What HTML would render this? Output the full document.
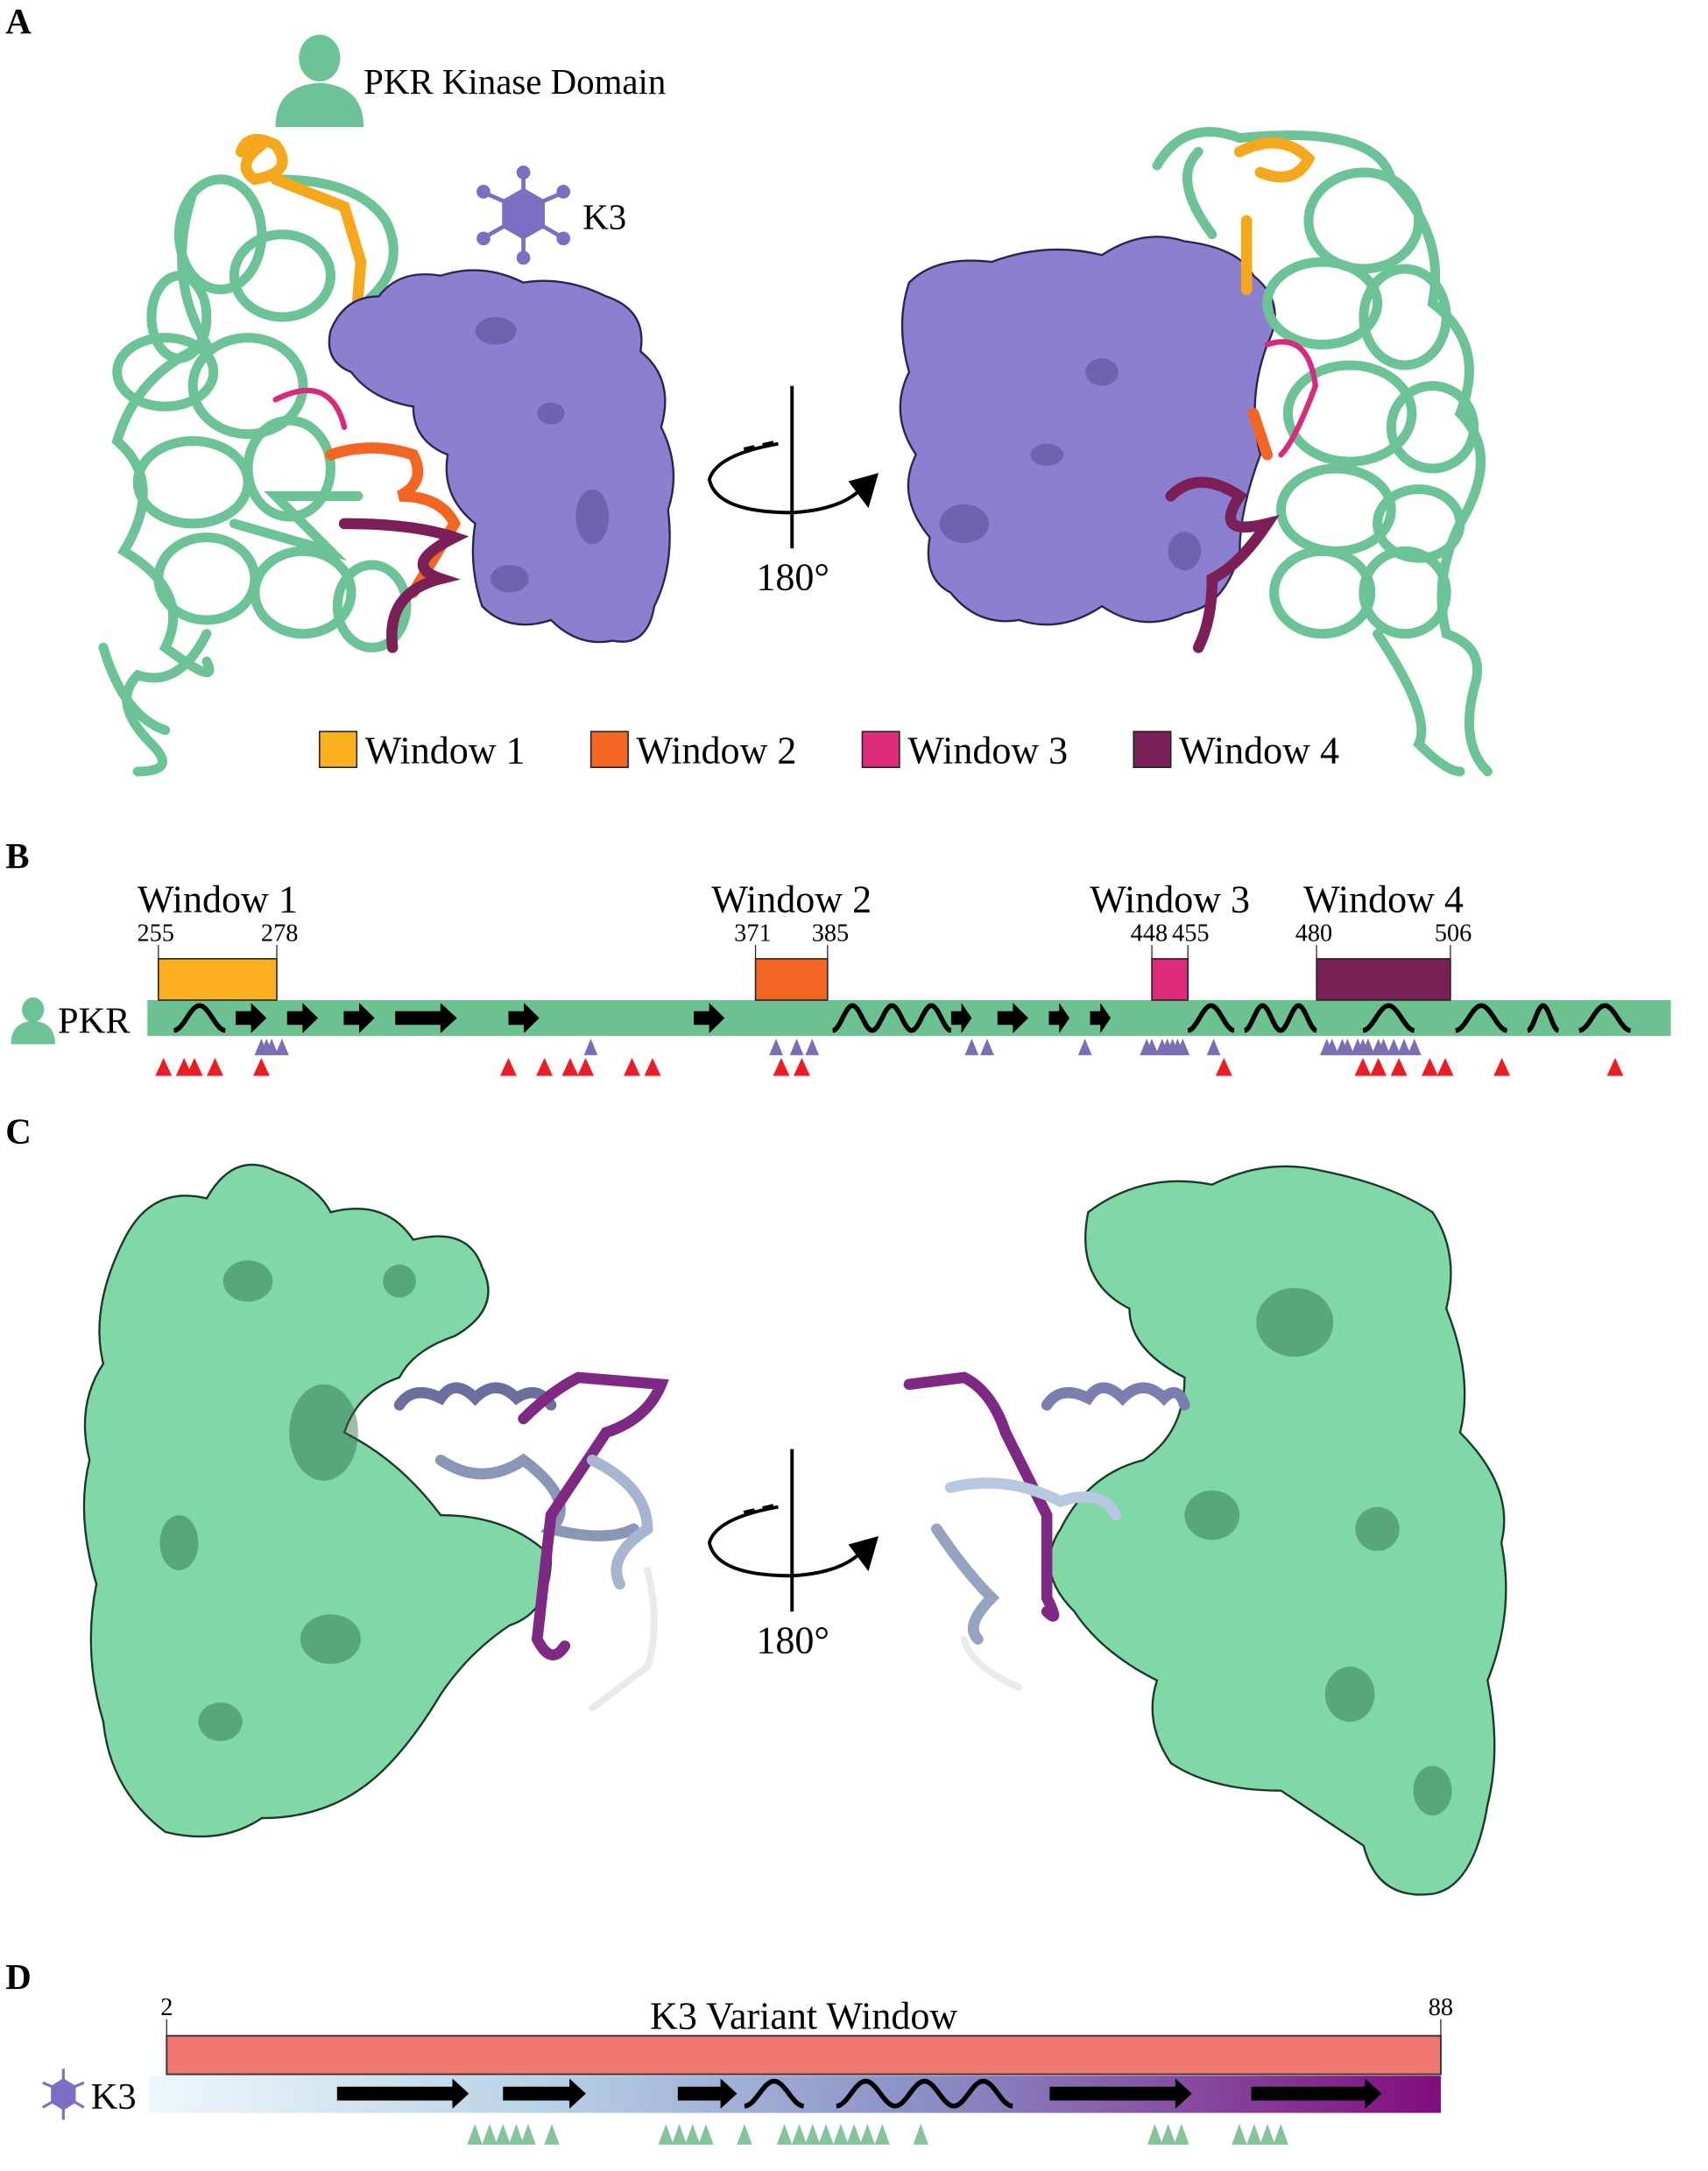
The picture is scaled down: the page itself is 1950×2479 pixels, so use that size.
<!DOCTYPE html>
<html><head><meta charset="utf-8">
<style>
html,body{margin:0;padding:0;background:#fff;}
svg{display:block;font-family:"Liberation Serif",serif;}
</style></head>
<body>
<svg id="fig" width="1950" height="2479" viewBox="0 0 1240 1576" xmlns="http://www.w3.org/2000/svg">
<!-- Panel labels -->
<text x="4" y="24" font-size="26" font-weight="bold">A</text>
<text x="4" y="630" font-size="26" font-weight="bold">B</text>
<text x="4" y="830" font-size="26" font-weight="bold">C</text>
<text x="4" y="1444" font-size="26" font-weight="bold">D</text>

<!-- Panel A icons -->
<g fill="#6cc496">
  <ellipse cx="232" cy="42" rx="15" ry="17"/>
  <path d="M200 92 Q200 62 232 60 Q264 62 264 92 Z"/>
</g>
<text x="264" y="68" font-size="26">PKR Kinase Domain</text>
<g fill="#7b6fc4" stroke="#7b6fc4" stroke-width="3">
  <polygon points="380,138 394,146 394,164 380,172 366,164 366,146"/>
  <line x1="380" y1="138" x2="380" y2="126"/><line x1="380" y1="172" x2="380" y2="186"/>
  <line x1="366" y1="146" x2="352" y2="140"/><line x1="394" y1="146" x2="408" y2="140"/>
  <line x1="366" y1="164" x2="352" y2="172"/><line x1="394" y1="164" x2="408" y2="172"/>
  <circle cx="380" cy="125" r="3.5"/><circle cx="380" cy="187" r="3.5"/>
  <circle cx="351" cy="139" r="3.5"/><circle cx="409" cy="139" r="3.5"/>
  <circle cx="351" cy="173" r="3.5"/><circle cx="409" cy="173" r="3.5"/>
</g>
<text x="423" y="166" font-size="26">K3</text>

<!-- Panel A left structure -->
<g fill="none" stroke="#6cc496" stroke-width="7" stroke-linecap="round">
  <path d="M140 140 Q120 200 150 250 Q100 270 85 320 Q120 350 90 400 Q140 430 120 470 Q160 500 150 480"/>
  <ellipse cx="160" cy="170" rx="30" ry="40"/><ellipse cx="205" cy="200" rx="35" ry="30"/>
  <ellipse cx="120" cy="270" rx="35" ry="25"/><ellipse cx="180" cy="280" rx="40" ry="35"/>
  <ellipse cx="140" cy="350" rx="40" ry="30"/><ellipse cx="210" cy="340" rx="30" ry="35"/>
  <ellipse cx="150" cy="420" rx="35" ry="30"/><ellipse cx="220" cy="430" rx="35" ry="30"/>
  <ellipse cx="270" cy="440" rx="25" ry="30"/><ellipse cx="130" cy="230" rx="20" ry="30"/>
  <path d="M150 460 Q130 500 100 490 Q80 510 110 540 Q130 560 100 560"/>
  <path d="M75 470 Q90 520 120 530"/><path d="M200 130 Q260 130 280 160 Q300 200 250 230"/>
  <path d="M170 380 L240 400 L200 360 L260 360"/>
</g>
<g fill="none" stroke-width="8" stroke-linecap="round">
  <path d="M175 110 Q180 95 200 105 Q215 125 185 130 Q170 120 190 105 M200 130 L250 150 L262 190 L258 238" stroke="#f5a81c"/>
  <path d="M240 330 Q270 320 300 330 Q310 350 290 360 Q320 360 330 380 L300 430" stroke="#f26522"/>
  <path d="M200 290 Q240 270 250 310" stroke="#d62a7a" stroke-width="4"/>
  <path d="M250 380 Q300 380 330 390 Q290 410 320 420 Q280 430 285 470" stroke="#7b1f57"/>
</g>
<path d="M240 240 Q250 215 275 215 Q290 195 320 200 Q350 190 380 205 Q410 200 440 215 Q470 225 465 255 Q490 275 480 310 Q495 340 485 370 Q490 410 475 440 Q470 470 445 465 Q420 470 400 450 Q370 460 350 440 Q340 410 345 380 Q320 360 325 330 Q300 320 300 295 Q270 290 255 270 Q235 262 240 240 Z" fill="#8b80d0" stroke="#2a2550" stroke-width="1.5"/>
<g fill="#5b5096" opacity="0.6">
  <ellipse cx="360" cy="240" rx="15" ry="10"/><ellipse cx="430" cy="375" rx="12" ry="20"/>
  <ellipse cx="400" cy="300" rx="10" ry="8"/><ellipse cx="370" cy="420" rx="14" ry="10"/>
</g>

<!-- Panel A right structure -->
<path d="M660 205 Q680 185 720 190 Q760 175 800 185 Q830 165 860 175 Q900 180 910 200 Q935 220 920 250 Q905 290 915 330 Q900 370 900 400 Q890 440 860 445 Q830 460 800 440 Q770 460 740 450 Q710 455 690 430 Q670 420 675 390 Q650 360 665 330 Q645 300 660 270 Q650 235 660 205 Z" fill="#8b80d0" stroke="#2a2550" stroke-width="1.5"/>
<g fill="#5b5096" opacity="0.6">
  <ellipse cx="800" cy="270" rx="12" ry="10"/><ellipse cx="700" cy="380" rx="18" ry="14"/>
  <ellipse cx="760" cy="330" rx="12" ry="8"/><ellipse cx="860" cy="400" rx="12" ry="14"/>
</g>
<g fill="none" stroke="#6cc496" stroke-width="7" stroke-linecap="round">
  <path d="M840 120 Q860 85 900 100 Q1000 90 1010 130 Q1050 170 1040 220 Q1080 250 1060 300 Q1090 330 1060 380 Q1040 420 1050 460 Q1080 470 1070 500 Q1060 540 1080 560"/>
  <ellipse cx="990" cy="160" rx="40" ry="35"/><ellipse cx="960" cy="220" rx="40" ry="30"/>
  <ellipse cx="1020" cy="230" rx="30" ry="35"/><ellipse cx="980" cy="300" rx="45" ry="35"/>
  <ellipse cx="1040" cy="310" rx="30" ry="30"/><ellipse cx="970" cy="370" rx="40" ry="30"/>
  <ellipse cx="1030" cy="380" rx="30" ry="25"/><ellipse cx="960" cy="430" rx="35" ry="30"/>
  <ellipse cx="1020" cy="430" rx="30" ry="30"/><path d="M1000 460 Q1040 520 1030 540 Q1050 560 1060 560"/>
  <path d="M880 170 Q850 130 870 110"/>
</g>
<g fill="none" stroke-width="8" stroke-linecap="round">
  <path d="M900 110 Q930 95 950 115 Q940 135 915 125 M905 160 L905 210" stroke="#f5a81c"/>
  <path d="M910 300 L920 330" stroke="#f26522"/>
  <path d="M920 250 Q950 240 955 280 Q940 320 930 330" stroke="#d62a7a" stroke-width="4"/>
  <path d="M850 360 Q870 340 900 360 Q880 390 920 380 Q900 410 880 420 Q880 450 870 470" stroke="#7b1f57"/>
</g>

<!-- Rotation symbol A -->
<g fill="none" stroke="#000" stroke-width="2.5">
  <line x1="575" y1="280" x2="575" y2="398"/>
  <path d="M565 322 Q520 330 515 348 Q520 372 575 372 Q610 370 625 355"/>
  <path d="M540 326 L566 320" stroke-dasharray="8 6"/>
  <polygon points="636,345 618,350 630,366" fill="#000"/>
</g>
<text x="549" y="428" font-size="28">180°</text>

<!-- Legend A -->
<g><rect x="232" y="531" width="27" height="26" fill="#fbb01f" stroke="#222" stroke-width="1"/><text x="265" y="554" font-size="28">Window 1</text></g>
<g><rect x="429" y="531" width="27" height="26" fill="#f26522" stroke="#222" stroke-width="1"/><text x="462" y="554" font-size="28">Window 2</text></g>
<g><rect x="626" y="531" width="27" height="26" fill="#dd2a7b" stroke="#222" stroke-width="1"/><text x="659" y="554" font-size="28">Window 3</text></g>
<g><rect x="823" y="531" width="27" height="26" fill="#7b1f57" stroke="#222" stroke-width="1"/><text x="856" y="554" font-size="28">Window 4</text></g>

<!-- Panel B -->
<g id="panelB"></g>
<!-- Panel D -->
<g id="panelD"></g>

<!-- Panel C left -->
<path d="M90 900 Q110 860 150 870 Q170 835 200 850 Q230 860 240 880 Q280 870 300 900 Q340 890 350 920 Q365 950 330 970 Q300 980 290 1000 Q260 1010 250 1040 Q290 1060 320 1100 Q370 1100 400 1130 Q400 1170 370 1180 Q340 1200 320 1230 Q290 1280 260 1300 Q230 1320 190 1320 Q160 1340 120 1330 Q80 1300 75 1250 Q60 1200 70 1150 Q55 1100 65 1060 Q55 1020 75 990 Q65 950 90 900 Z" fill="#7fd8a5" stroke="#1a3a28" stroke-width="1.5"/>
<g fill="#2f6b4a" opacity="0.45">
  <ellipse cx="235" cy="1040" rx="25" ry="35"/><ellipse cx="180" cy="930" rx="18" ry="15"/>
  <ellipse cx="240" cy="1190" rx="22" ry="18"/><ellipse cx="130" cy="1120" rx="14" ry="20"/>
  <ellipse cx="290" cy="930" rx="12" ry="12"/><ellipse cx="160" cy="1250" rx="16" ry="14"/>
</g>
<g fill="none" stroke-width="8" stroke-linecap="round">
  <path d="M290 1020 Q300 1005 320 1015 Q330 1000 345 1015 Q360 1000 375 1015 Q390 1005 400 1020" stroke="#6a6f9e"/>
  <path d="M320 1060 Q350 1080 380 1060 Q420 1090 400 1110 Q440 1120 460 1110" stroke="#8a96b5"/>
  <path d="M380 1030 Q400 1010 420 1000 L480 1005 Q470 1030 440 1040 L400 1100 L390 1190 Q400 1210 410 1195" stroke="#7e2a85"/>
  <path d="M430 1060 Q470 1080 470 1110 Q440 1130 450 1150" stroke="#a7b6d0"/>
  <path d="M470 1140 Q480 1180 470 1210 L430 1240" stroke="#e9eaee" stroke-width="5"/>
</g>

<!-- Panel C right -->
<path d="M790 880 Q830 850 880 860 Q920 840 960 850 Q1010 860 1040 880 Q1060 910 1050 950 Q1070 1000 1060 1040 Q1100 1080 1090 1120 Q1100 1170 1080 1220 Q1090 1270 1080 1310 Q1070 1370 1040 1375 Q1000 1380 990 1340 Q960 1320 930 1300 Q880 1300 850 1280 Q830 1250 840 1220 Q800 1200 780 1170 Q750 1140 770 1110 Q790 1070 830 1060 Q860 1040 860 1000 Q820 980 820 950 Q780 930 790 880 Z" fill="#7fd8a5" stroke="#1a3a28" stroke-width="1.5"/>
<g fill="#2f6b4a" opacity="0.45">
  <ellipse cx="940" cy="960" rx="28" ry="25"/><ellipse cx="880" cy="1100" rx="20" ry="18"/>
  <ellipse cx="1000" cy="1110" rx="16" ry="16"/><ellipse cx="980" cy="1230" rx="18" ry="20"/>
  <ellipse cx="1040" cy="1300" rx="14" ry="18"/>
</g>
<g fill="none" stroke-width="8" stroke-linecap="round">
  <path d="M760 1020 Q770 1005 790 1015 Q800 1000 815 1015 Q830 1000 845 1015 Q855 1005 860 1020" stroke="#7a7fae"/>
  <path d="M660 1005 L700 1000 Q720 1010 730 1040 L760 1100 L760 1160 Q770 1180 760 1170" stroke="#7e2a85"/>
  <path d="M690 1080 Q730 1070 770 1090 Q800 1080 810 1100" stroke="#b8c8e0"/>
  <path d="M680 1110 Q700 1140 720 1160 Q700 1180 710 1190" stroke="#94a3c0"/>
  <path d="M700 1190 Q705 1210 740 1225" stroke="#e9eaee" stroke-width="5"/>
</g>

<!-- Rotation symbol C -->
<g fill="none" stroke="#000" stroke-width="2.5">
  <line x1="575" y1="1052" x2="575" y2="1170"/>
  <path d="M565 1094 Q520 1102 515 1120 Q520 1144 575 1144 Q610 1142 625 1127"/>
  <path d="M540 1098 L566 1092" stroke-dasharray="8 6"/>
  <polygon points="636,1117 618,1122 630,1138" fill="#000"/>
</g>
<text x="549" y="1200" font-size="28">180°</text>

<defs>
  <linearGradient id="k3grad" x1="0" x2="1" y1="0" y2="0">
    <stop offset="0" stop-color="#eef7fb"/>
    <stop offset="0.3" stop-color="#b9d3e6"/>
    <stop offset="0.6" stop-color="#8a8fc6"/>
    <stop offset="1" stop-color="#820c7c"/>
  </linearGradient>
</defs>
</svg>
<script>
// ---------- Panel B data ----------
const pkrWindowNames = ["Window 1","Window 2","Window 3","Window 4"];
const pkrWindowStart = [255,371,448,480];
const pkrWindowEnd = [278,385,455,506];
const pkrWindowColors = ["#fbb01f","#f26522","#dd2a7b","#7b1f57"];
const pkrStrandStart = [270,280,291,301,323,359,409,418,428,436];
const pkrStrandEnd = [276,286,297,313,329,365,413,424,432,440];
const pkrHelixStart = [258,386,455,466,489,507,521,531];
const pkrHelixEnd = [268,409,464,480,499,517,527,541];
const pkrHelixTurns = [1,3,1,2,1,1,1,1];
const pkrK3Contacts = [275,276,277,279,339,375,379,382,413,416,435,447,448,450,451,452,453,454,460,482,483,485,486,488,489,490,492,493,495,497,499];
const pkrVariants = [256,260,262,266,275,323,330,335,338,347,351,376,380,462,489,492,496,502,505,516,538];
// ---------- Panel D data ----------
const k3WindowStart = 2;
const k3WindowEnd = 88;
const k3StrandStart = [13.5,24.7,36.5,61.6,75.2];
const k3StrandEnd = [22.4,30.3,40.5,71.2,84];
const k3HelixStart = [41,47.2];
const k3HelixEnd = [45,59.1];
const k3HelixTurns = [1,3];
const k3PkrContacts = [22.8,23.8,24.7,25.6,26.4,28,35.7,36.6,37.5,38.4,41,43.7,44.7,45.6,46.5,47.5,48.4,49.3,50.3,52.9,68.7,69.6,70.5,74.4,75.4,76.3,77.2];

const NS = "http://www.w3.org/2000/svg";
function mk(tag, attrs, parent){const e=document.createElementNS(NS,tag);for(const k in attrs)e.setAttribute(k,attrs[k]);parent.appendChild(e);return e;}
function helixPath(x0,x1,turns,yc,amp){
  let d="";const n=turns*40;
  for(let i=0;i<=n;i++){const t=i/n;const x=x0+(x1-x0)*t;const y=yc+amp*Math.cos(2*Math.PI*turns*t);d+=(i?"L":"M")+x.toFixed(1)+" "+y.toFixed(1);}
  return d;
}
function arrowPts(x0,x1,yc){const h=Math.min(12,(x1-x0)*0.5);return `${x0},${yc-5} ${x1-h},${yc-5} ${x1-h},${yc-11} ${x1},${yc} ${x1-h},${yc+11} ${x1-h},${yc+5} ${x0},${yc+5}`;}
function tri(x,yTop,w,h){return `${x},${yTop} ${x+w/2},${yTop+h} ${x-w/2},${yTop+h}`;}

// ---- Panel B ----
(function(){
  const g=document.getElementById('panelB');
  const xB = r => 115 + (r-255)*3.737;
  // person icon
  const icon=mk('g',{fill:'#6cc496'},g);
  
  
  mk('ellipse',{cx:24,cy:733,rx:8,ry:9},icon);
  mk('path',{d:'M8 758 Q8 742 24 741 Q40 742 40 758 Z'},icon);
  const lbl=mk('text',{x:42,y:750,'font-size':27},g);lbl.textContent='PKR';
  
  
  const bar=mk('rect',{x:107,y:726,width:1106,height:26,fill:'#6bc18f'},g);
  
  
  for(let i=0;i<pkrWindowStart.length;i++){
    const a=xB(pkrWindowStart[i]), b=xB(pkrWindowEnd[i]);
    const wg=mk('g',{},g);
    
    
    mk('rect',{x:a,y:696,width:b-a,height:30,fill:pkrWindowColors[i],stroke:'#222','stroke-width':1},wg);
    mk('line',{x1:a,y1:686,x2:a,y2:696,stroke:'#222','stroke-width':0.8},wg);
    mk('line',{x1:b,y1:686,x2:b,y2:696,stroke:'#222','stroke-width':0.8},wg);
    const t1=mk('text',{x:a-2,y:683,'font-size':18,'text-anchor':'middle'},wg);t1.textContent=pkrWindowStart[i];
    const t2=mk('text',{x:b+2,y:683,'font-size':18,'text-anchor':'middle'},wg);t2.textContent=pkrWindowEnd[i];
    const t3=mk('text',{x:(a+b)/2,y:662,'font-size':28,'text-anchor':'middle'},wg);t3.textContent=pkrWindowNames[i];
  }
  for(let i=0;i<pkrStrandStart.length;i++){
    const p=mk('polygon',{points:arrowPts(xB(pkrStrandStart[i]),xB(pkrStrandEnd[i]),739),fill:'#000'},g);
    
    
  }
  for(let i=0;i<pkrHelixStart.length;i++){
    const p=mk('path',{d:helixPath(xB(pkrHelixStart[i]),xB(pkrHelixEnd[i]),pkrHelixTurns[i],739,9),fill:'none',stroke:'#000','stroke-width':3.5},g);
    
    
  }
  pkrK3Contacts.forEach(r=>{
    const p=mk('polygon',{points:tri(xB(r),754,10,12),fill:'#7b6fb4'},g);
    
    
  });
  pkrVariants.forEach(r=>{
    const p=mk('polygon',{points:tri(xB(r),768,12,13),fill:'#ed1c24'},g);
    
    
  });
})();

// ---- Panel D ----
(function(){
  const g=document.getElementById('panelD');
  const xD = r => 121 + (r-2)*10.756;
  const icon=mk('g',{fill:'#7b6fc4',stroke:'#7b6fc4','stroke-width':2},g);
  
  
  mk('polygon',{points:'46,1510 54,1515 54,1526 46,1531 38,1526 38,1515'},icon);
  mk('line',{x1:46,y1:1510,x2:46,y2:1502},icon);mk('line',{x1:46,y1:1531,x2:46,y2:1539},icon);
  mk('line',{x1:38,y1:1515,x2:31,y2:1512},icon);mk('line',{x1:54,y1:1515,x2:61,y2:1512},icon);
  mk('line',{x1:38,y1:1526,x2:31,y2:1530},icon);mk('line',{x1:54,y1:1526,x2:61,y2:1530},icon);
  const lbl=mk('text',{x:66,y:1531,'font-size':27},g);lbl.textContent='K3';
  
  
  const a=xD(k3WindowStart), b=xD(k3WindowEnd);
  const wg=mk('g',{},g);
  
  
  mk('rect',{x:a,y:1478,width:b-a,height:28,fill:'#f07672',stroke:'#333','stroke-width':1.2},wg);
  mk('line',{x1:a,y1:1466,x2:a,y2:1478,stroke:'#222','stroke-width':0.8},wg);
  mk('line',{x1:b,y1:1466,x2:b,y2:1478,stroke:'#222','stroke-width':0.8},wg);
  const t1=mk('text',{x:a,y:1463,'font-size':18,'text-anchor':'middle'},wg);t1.textContent=k3WindowStart;
  const t2=mk('text',{x:b,y:1463,'font-size':18,'text-anchor':'middle'},wg);t2.textContent=k3WindowEnd;
  const t3=mk('text',{x:(a+b)/2+0,y:1473,'font-size':28,'text-anchor':'middle'},wg);t3.textContent='K3 Variant Window';
  const bar=mk('rect',{x:108,y:1507,width:b-108,height:27,fill:'url(#k3grad)'},g);
  
  
  for(let i=0;i<k3StrandStart.length;i++){
    const p=mk('polygon',{points:arrowPts(xD(k3StrandStart[i]),xD(k3StrandEnd[i]),1520),fill:'#000'},g);
    
    
  }
  for(let i=0;i<k3HelixStart.length;i++){
    const p=mk('path',{d:helixPath(xD(k3HelixStart[i]),xD(k3HelixEnd[i]),k3HelixTurns[i],1520,9),fill:'none',stroke:'#000','stroke-width':3.5},g);
    
    
  }
  k3PkrContacts.forEach(r=>{
    const p=mk('polygon',{points:tri(xD(r),1542,11,15),fill:'#84c49a'},g);
    
    
  });
})();
</script>
</body></html>
